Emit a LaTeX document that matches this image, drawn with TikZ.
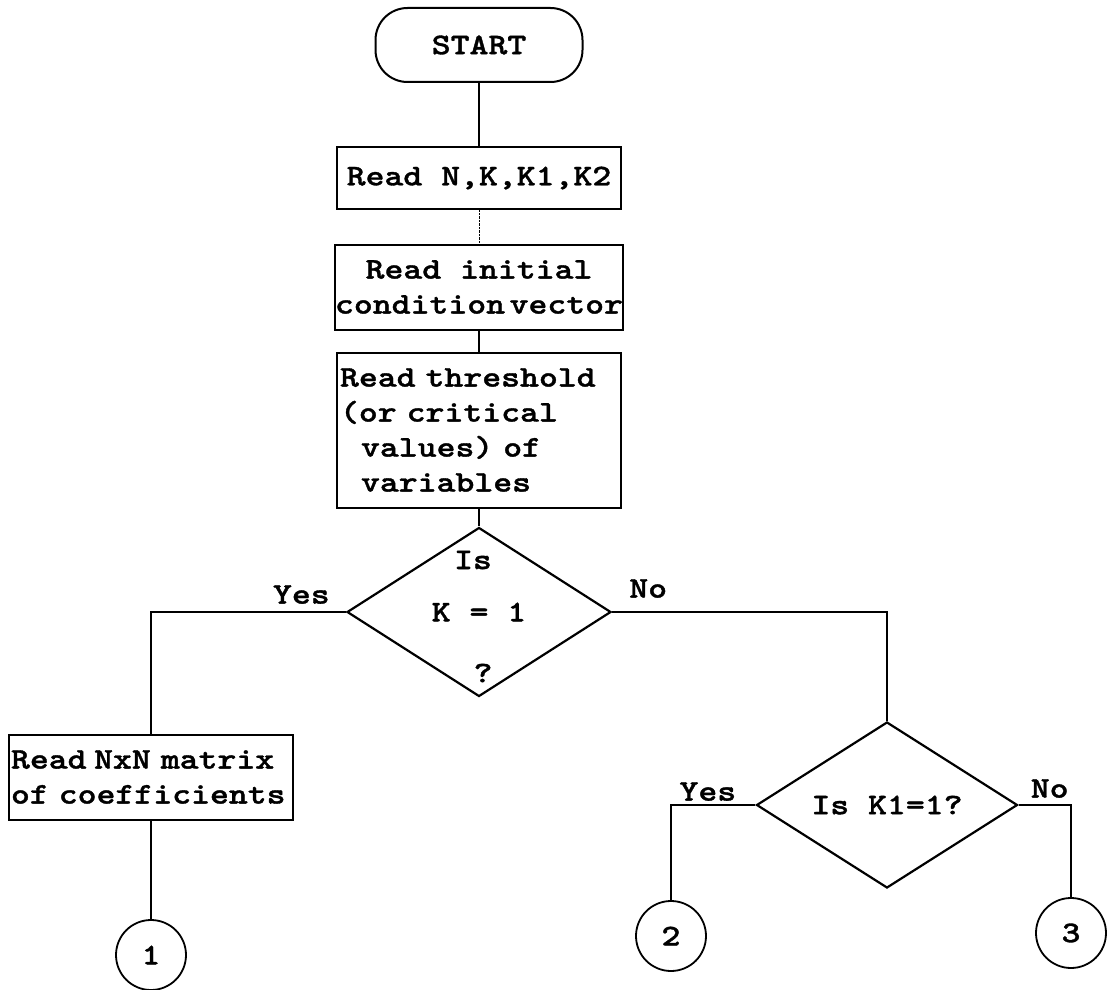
\documentclass[tikz,border=0pt]{standalone}
\usepackage{fontspec}
\newfontfamily\typefont{lmmonolt10-bold.otf}[FakeStretch=1.2, FakeBold=1.2]
\usetikzlibrary{positioning, shapes.geometric}

\begin{document}
\begin{tikzpicture}[
  x=1pt, y=-1pt,
  every node/.style={font=\typefont\fontsize{30}{35}\selectfont, inner sep=0pt},
  terminal/.style={rectangle, rounded corners=32pt, draw, line width=2pt,
    minimum width=207pt, minimum height=74pt},
  process/.style={rectangle, draw, line width=2pt, minimum width=284pt, align=center},
  decision/.style={diamond, draw, line width=2.2pt, aspect=1.56,
    minimum width=264pt, minimum height=169pt},
  connector/.style={circle, draw, line width=1.8pt, minimum size=70pt},
  flow/.style={line width=2pt},
]
  \useasboundingbox (0,0) rectangle (1109,990);

  % main column
  \node[terminal] (start) at (479,45) {START};
  \node[process, minimum height=62pt] (readn) at (479,178) {Read N,K,K1,K2};
  \node[process, minimum height=85pt] (init) at (479,287) {Read initial\\condition\hspace{.15em}vector};
  \node[process, minimum height=155pt, align=left, text width=278pt] (thresh) at (479,430)
    {Read threshold\\(or critical\\\hspace*{.7em}values) of\\\hspace*{.7em}variables};
  \node[decision] (dec1) at (479,612) {K = 1};
  \node (is1) at (473,560) {Is};
  \node (qm1) at (483,673) {?};

  % left branch
  \node[process, minimum height=85pt, align=left, text width=280pt] (matrix) at (151,777)
    {Read\hspace{.25em}NxN matrix\\of coefficients};
  \node[connector] (c1) at (151,955) {1};

  % right branch
  \node[decision, minimum width=261pt, minimum height=166pt] (dec2) at (887,805) {Is K1=1?};
  \node[connector] (c2) at (671,936) {2};
  \node[connector] (c3) at (1071,933) {3};

  \draw[flow] (start) -- (readn);
  \draw[thin, densely dotted] (readn) -- (init);
  \draw[flow] (init) -- (thresh);
  \draw[flow] (thresh) -- (dec1);
  \draw[flow] (dec1.west) -| (matrix.north);
  \draw[flow] (matrix) -- (c1);
  \draw[flow] (dec1.east) -| (dec2.north);
  \draw[flow] (dec2.west) -| (c2.north);
  \draw[flow] (dec2.east) -| (c3.north);

  \node[above left=8pt and 16pt of dec1.west] (yes1) {Yes};
  \node[above right=14pt and 17pt of dec1.east] (no1) {No};
  \node[above left=4pt and 19pt of dec2.west] (yes2) {Yes};
  \node[above right=7pt and 12pt of dec2.east] (no2) {No};
\end{tikzpicture}
\end{document}
